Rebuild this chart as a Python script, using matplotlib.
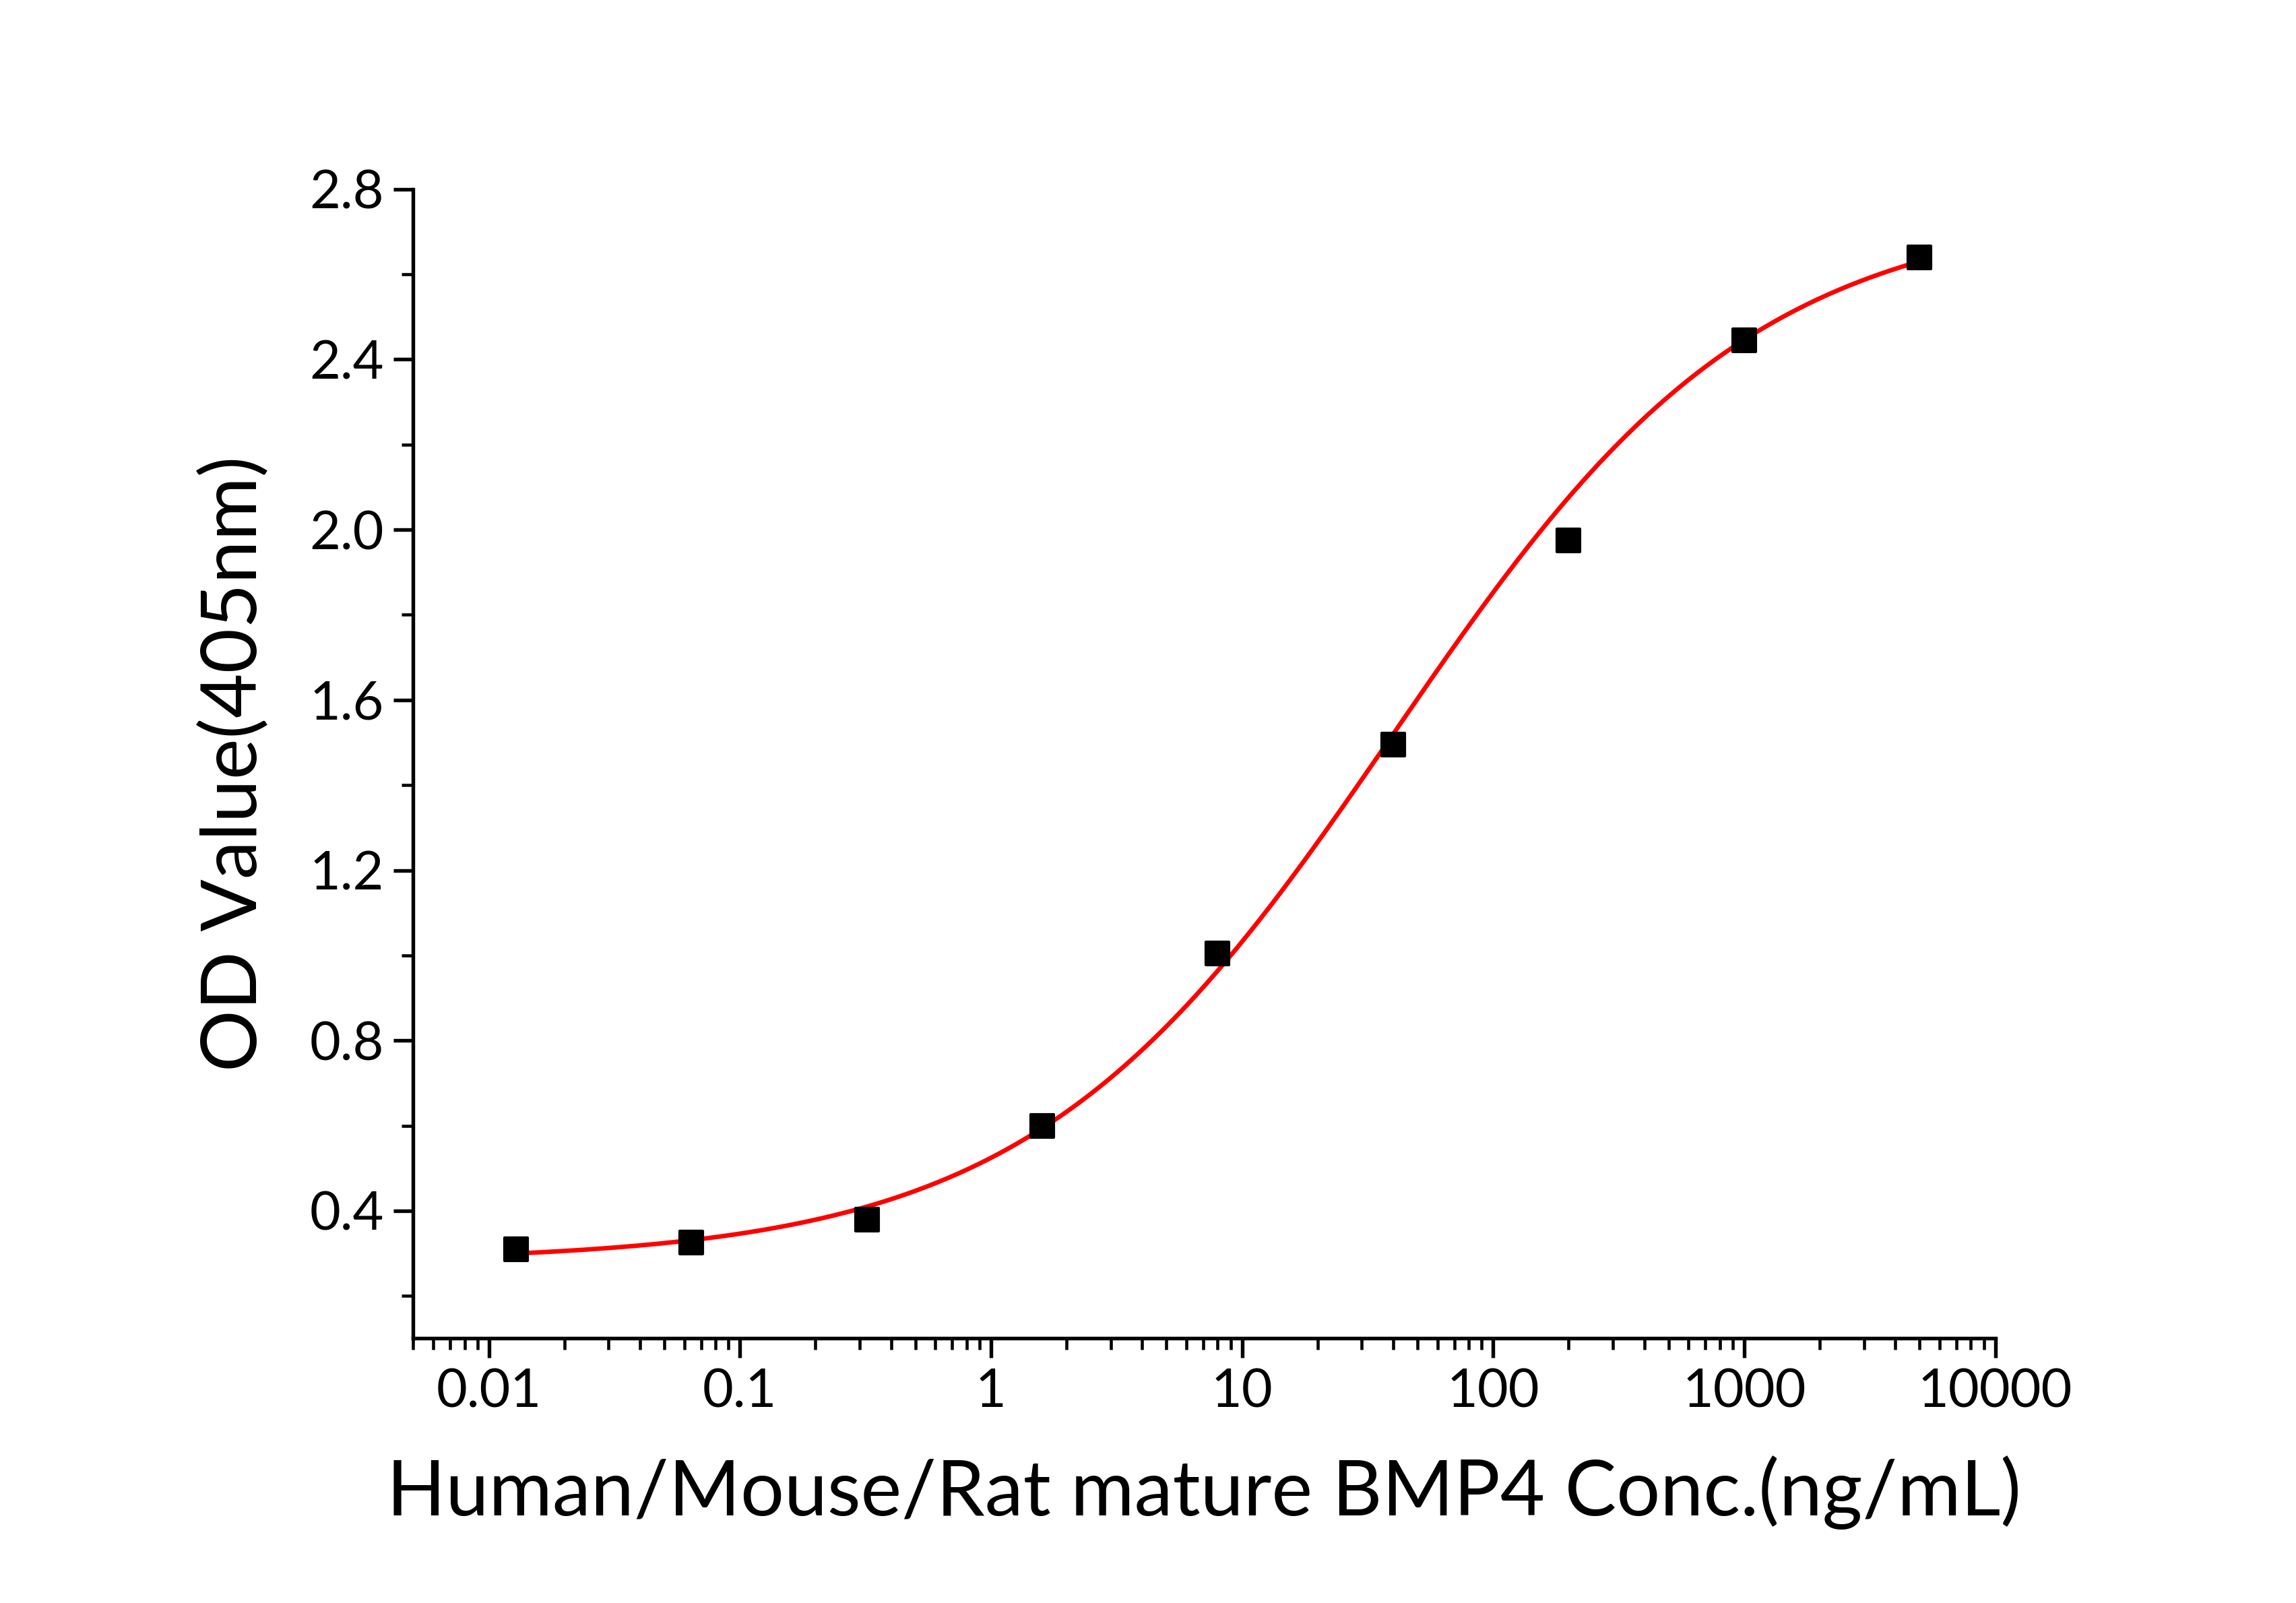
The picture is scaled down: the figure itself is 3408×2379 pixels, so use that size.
import numpy as np
import matplotlib.pyplot as plt

plt.rcParams['font.family'] = ['Lato', 'DejaVu Sans']

conc = [0.0128, 0.064, 0.32, 1.6, 8, 40, 200, 1000, 5000]
od = [0.31, 0.325, 0.38, 0.60, 1.005, 1.495, 1.975, 2.445, 2.64]

# four-parameter logistic fit parameters (bottom, top, ec50, slope)
bottom, top, ec50, slope = 0.28, 2.76, 40.0, 0.60


def four_pl(x):
    return bottom + (top - bottom) / (1 + (ec50 / x) ** slope)


def main():
    fig = plt.figure(figsize=(11.36, 7.93), dpi=300)
    ax = fig.add_axes([0.180, 0.165, 0.689, 0.717])

    xs = np.logspace(np.log10(conc[0]), np.log10(conc[-1]), 400)
    ax.plot(xs, four_pl(xs), color="red", lw=1.6, zorder=2)
    ax.scatter(conc, od, marker="s", s=70, color="black", zorder=3)

    ax.set_xscale("log")
    ax.set_xlim(0.005, 10000)
    ax.set_ylim(0.1, 2.8)
    ax.set_yticks([0.4, 0.8, 1.2, 1.6, 2.0, 2.4, 2.8])
    ax.set_yticks(np.arange(0.2, 2.8, 0.4), minor=True)
    ax.set_xticks([0.01, 0.1, 1, 10, 100, 1000, 10000])
    ax.set_xticklabels(["0.01", "0.1", "1", "10", "100", "1000", "10000"])

    for s in ["top", "right"]:
        ax.spines[s].set_visible(False)
    for s in ["left", "bottom"]:
        ax.spines[s].set_linewidth(1.3)
    ax.tick_params(which="major", direction="out", length=7, width=1.3, labelsize=19)
    ax.tick_params(which="minor", direction="out", length=4, width=1.1)

    ax.set_xlabel("Human/Mouse/Rat mature BMP4 Conc.(ng/mL)", fontsize=27.5, labelpad=14)
    ax.set_ylabel("OD Value(405nm)", fontsize=27.5, labelpad=14)

    fig.savefig("out.png", dpi=300)


if __name__ == "__main__":
    main()
